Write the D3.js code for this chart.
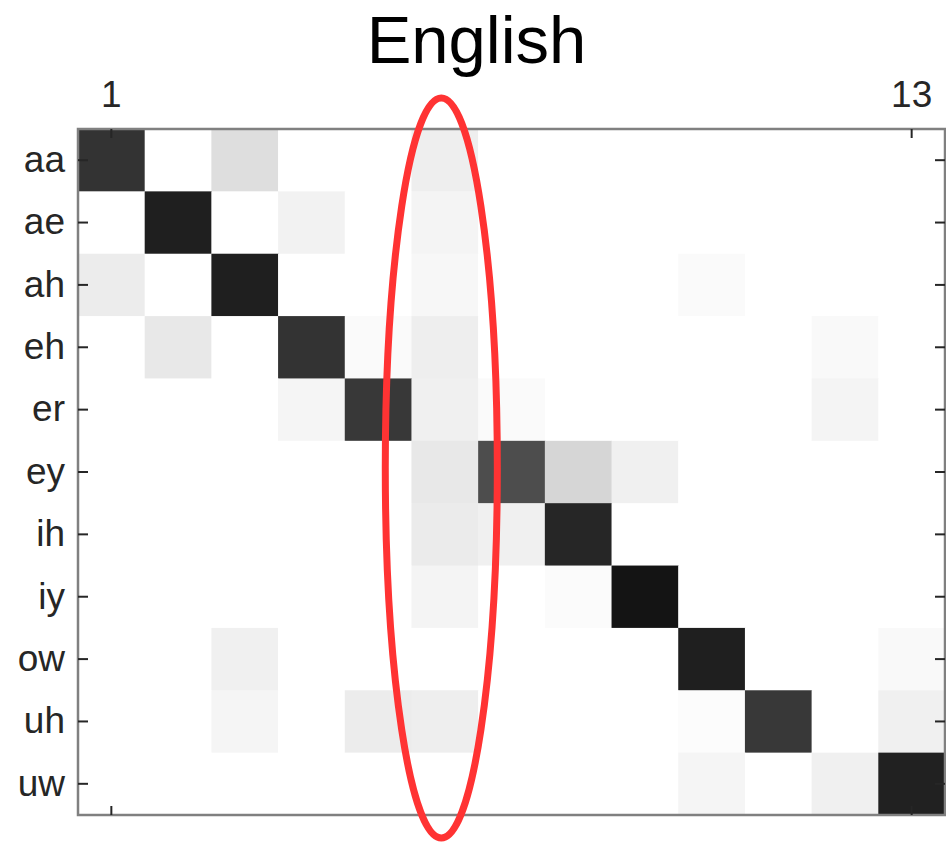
<!DOCTYPE html>
<html>
<head>
<meta charset="utf-8">
<script src="https://cdn.jsdelivr.net/npm/d3@7"></script>
<style>
  html, body { margin: 0; padding: 0; background: #ffffff; }
  svg { display: block; }
  text { font-family: "Liberation Sans", Arial, Helvetica, sans-serif; }
</style>
</head>
<body>
<svg id="chart" width="946" height="842"></svg>
<script>
// ---- data ----
const title = "English";
const rowLabels = ["aa", "ae", "ah", "eh", "er", "ey", "ih", "iy", "ow", "uh", "uw"];
const colLabels = [1, 2, 3, 4, 5, 6, 7, 8, 9, 10, 11, 12, 13];
const xTickValues = [1, 13];
// intensity per cell (0 = white, 1 = black)
const aa = [0.80, 0, 0.13, 0, 0, 0.065, 0, 0, 0, 0, 0, 0, 0];
const ae = [0, 0.88, 0, 0.05, 0, 0.045, 0, 0, 0, 0, 0, 0, 0];
const ah = [0.075, 0, 0.88, 0, 0, 0.03, 0, 0, 0, 0.02, 0, 0, 0];
const eh = [0, 0.09, 0, 0.80, 0.02, 0.065, 0, 0, 0, 0, 0, 0.025, 0];
const er = [0, 0, 0, 0.04, 0.78, 0.06, 0.02, 0, 0, 0, 0, 0.045, 0];
const ey = [0, 0, 0, 0, 0, 0.09, 0.70, 0.16, 0.06, 0, 0, 0, 0];
const ih = [0, 0, 0, 0, 0, 0.08, 0.06, 0.85, 0, 0, 0, 0, 0];
const iy = [0, 0, 0, 0, 0, 0.045, 0, 0.015, 0.92, 0, 0, 0, 0];
const ow = [0, 0, 0.06, 0, 0, 0, 0, 0, 0, 0.88, 0, 0, 0.025];
const uh = [0, 0, 0.04, 0, 0.075, 0.065, 0, 0, 0, 0.01, 0.78, 0, 0.06];
const uw = [0, 0, 0, 0, 0, 0, 0, 0, 0, 0.04, 0, 0.06, 0.87];
const matrix = [aa, ae, ah, eh, er, ey, ih, iy, ow, uh, uw];
// highlighted column
const highlightCol = 6;

// ---- layout ----
const mLeft = 78, mRight = 945, mTop = 129, mBottom = 815;
const svg = d3.select("#chart");

const x = d3.scaleBand().domain(colLabels).range([mLeft, mRight]).padding(0);
const y = d3.scaleBand().domain(rowLabels).range([mTop, mBottom]).padding(0);
const color = d3.scaleLinear().domain([0, 1]).range(["#ffffff", "#000000"]);

const cells = [];
matrix.forEach((row, i) => row.forEach((v, j) => cells.push({ r: rowLabels[i], c: colLabels[j], v })));

svg.append("g").selectAll("rect").data(cells).join("rect")
  .attr("x", d => x(d.c))
  .attr("y", d => y(d.r))
  .attr("width", x.bandwidth() + 0.5)
  .attr("height", y.bandwidth() + 0.5)
  .attr("fill", d => color(d.v));

// frame
svg.append("rect")
  .attr("x", mLeft).attr("y", mTop)
  .attr("width", mRight - mLeft).attr("height", mBottom - mTop)
  .attr("fill", "none").attr("stroke", "#808080").attr("stroke-width", 2.5);

function styleAxis(g, showText) {
  g.select(".domain").remove();
  g.selectAll(".tick line").attr("stroke", "#262626").attr("stroke-width", 2);
  g.selectAll(".tick text")
    .attr("fill", "#262626")
    .style("font-size", "37px")
    .style("font-family", "'Liberation Sans', Arial, sans-serif")
    .style("display", showText ? null : "none");
}

// left axis
svg.append("g").attr("transform", `translate(${mLeft},0)`)
  .call(d3.axisLeft(y).tickSize(-10).tickPadding(13))
  .call(g => styleAxis(g, true));
// right axis (ticks only)
svg.append("g").attr("transform", `translate(${mRight},0)`)
  .call(d3.axisRight(y).tickSize(-10))
  .call(g => styleAxis(g, false));
// top axis
svg.append("g").attr("transform", `translate(0,${mTop})`)
  .call(d3.axisTop(x).tickValues(xTickValues).tickSize(-9).tickPadding(22))
  .call(g => styleAxis(g, true));
// bottom axis (ticks only)
svg.append("g").attr("transform", `translate(0,${mBottom})`)
  .call(d3.axisBottom(x).tickValues(xTickValues).tickSize(-9))
  .call(g => styleAxis(g, false));

// title
svg.append("text")
  .attr("x", 476.5).attr("y", 63)
  .attr("text-anchor", "middle")
  .attr("fill", "#000")
  .style("font-size", "67px")
  .text(title);

// red ellipse around highlighted column
const cx = x(highlightCol) + x.bandwidth() / 2;
svg.append("ellipse")
  .attr("cx", cx - 3.5)
  .attr("cy", (mTop + mBottom) / 2 - 4)
  .attr("rx", x.bandwidth() * 0.84)
  .attr("ry", (mBottom - mTop) / 2 + 27)
  .attr("fill", "none")
  .attr("stroke", "#ff3333")
  .attr("stroke-width", 7);
</script>
</body>
</html>
